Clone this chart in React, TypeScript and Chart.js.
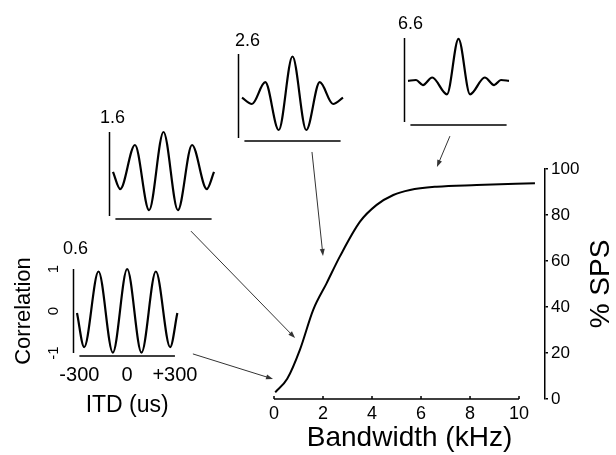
import React, { useEffect, useRef } from "react";
import { Chart, registerables } from "chart.js";

Chart.register(...registerables);

const FONT = "'Liberation Sans', Arial, Helvetica, sans-serif";

// ---------- main curve: % SPS vs bandwidth ----------
const BANDWIDTH_KHZ = [0.05, 0.54, 1.06, 1.6, 2.15, 2.69, 3.51, 4.19, 4.87, 5.55, 6.64, 8.27, 10.65];
const SPS_PERCENT = [2.9, 8.8, 21.5, 38.8, 50.4, 62, 77.1, 84.4, 88.7, 90.9, 92.3, 93.0, 93.8];
const X_TICKS = [0, 2, 4, 6, 8, 10];
const Y_TICKS = [0, 20, 40, 60, 80, 100];

// arrows (annotation, in main-chart data units)
const ARROW_FROM_BW = [-3.31, -3.39, 1.55, 7.18];
const ARROW_FROM_SPS = [19.6, 73.0, 107.4, 114.3];
const ARROW_TO_BW = [-0.04, 0.86, 2.0, 6.65];
const ARROW_TO_SPS = [8.7, 26.5, 62.2, 100.9];

// ---------- insets: cross-correlation vs ITD ----------
const ITD_TICKS = [-300, 0, 300];
const ITD_TICK_LABELS = ["-300", "0", "+300"];
const CORR_TICKS = [-1, 0, 1];

const ITD_06 = [-315, -270, -180, -90, 0, 90, 180, 270, 315];
const CORR_06 = [-0.05, -0.86, 0.94, -0.99, 1.0, -0.99, 0.94, -0.86, -0.05];

const ITD_16 = [-315, -270, -178, -90, 0, 90, 178, 270, 315];
const CORR_16 = [0.05, -0.36, 0.69, -0.86, 1.0, -0.86, 0.69, -0.36, 0.05];

const ITD_26 = [-315, -253, -170, -86, 0, 86, 170, 253, 315];
const CORR_26 = [-0.04, -0.19, 0.33, -0.81, 0.94, -0.81, 0.33, -0.19, -0.04];

const ITD_66 = [-315, -265, -222, -164, -72, 0, 72, 164, 222, 265, 315];
const CORR_66 = [-0.02, 0.0, -0.12, 0.06, -0.34, 0.98, -0.34, 0.06, -0.12, 0.0, -0.02];

function MainChart() {
  const ref = useRef<HTMLCanvasElement>(null);
  useEffect(() => {
    const decor = {
      id: "mainDecor",
      afterDraw(chart: any) {
        const { ctx, chartArea } = chart;
        const x = chart.scales.x;
        const y = chart.scales.y;
        ctx.save();
        // x axis line with small inward ticks
        ctx.strokeStyle = "#000";
        ctx.lineWidth = 1.5;
        const yb = chartArea.bottom;
        ctx.beginPath();
        ctx.moveTo(x.getPixelForValue(X_TICKS[0]), yb);
        ctx.lineTo(x.getPixelForValue(X_TICKS[X_TICKS.length - 1]), yb);
        X_TICKS.forEach((v) => {
          const px = x.getPixelForValue(v);
          ctx.moveTo(px, yb);
          ctx.lineTo(px, yb - 3);
        });
        ctx.stroke();
        // arrows
        ctx.strokeStyle = "#333";
        ctx.fillStyle = "#333";
        ctx.lineWidth = 1;
        for (let i = 0; i < ARROW_FROM_BW.length; i++) {
          const x0 = x.getPixelForValue(ARROW_FROM_BW[i]);
          const y0 = y.getPixelForValue(ARROW_FROM_SPS[i]);
          const x1 = x.getPixelForValue(ARROW_TO_BW[i]);
          const y1 = y.getPixelForValue(ARROW_TO_SPS[i]);
          const a = Math.atan2(y1 - y0, x1 - x0);
          const L = 7, W = 2.5;
          ctx.beginPath();
          ctx.moveTo(x0, y0);
          ctx.lineTo(x1 - Math.cos(a) * L * 0.8, y1 - Math.sin(a) * L * 0.8);
          ctx.stroke();
          ctx.beginPath();
          ctx.moveTo(x1, y1);
          ctx.lineTo(x1 - Math.cos(a) * L - Math.sin(a) * W, y1 - Math.sin(a) * L + Math.cos(a) * W);
          ctx.lineTo(x1 - Math.cos(a) * L + Math.sin(a) * W, y1 - Math.sin(a) * L - Math.cos(a) * W);
          ctx.closePath();
          ctx.fill();
        }
        // right-axis title, reading bottom to top
        ctx.fillStyle = "#000";
        ctx.translate(chart.width - 15, (chartArea.top + chartArea.bottom) / 2);
        ctx.rotate(-Math.PI / 2);
        ctx.font = `28px ${FONT}`;
        ctx.textAlign = "center";
        ctx.textBaseline = "middle";
        ctx.fillText("% SPS", 0, 0);
        ctx.restore();
      },
    };
    const chart = new Chart(ref.current!, {
      type: "line",
      data: {
        datasets: [
          {
            data: BANDWIDTH_KHZ.map((b, i) => ({ x: b, y: SPS_PERCENT[i] })),
            borderColor: "#000",
            borderWidth: 2,
            pointRadius: 0,
            cubicInterpolationMode: "monotone",
            fill: false,
            clip: false,
          } as any,
        ],
      },
      options: {
        animation: false,
        responsive: false,
        layout: { padding: { left: 274, top: 169, right: 0, bottom: 0 } },
        plugins: { legend: { display: false }, tooltip: { enabled: false } },
        scales: {
          x: {
            type: "linear",
            min: 0,
            max: 11.06,
            position: "bottom",
            grid: { display: false },
            border: { display: false },
            afterBuildTicks: (s: any) => {
              s.ticks = X_TICKS.map((v) => ({ value: v }));
            },
            ticks: { color: "#000", font: { family: FONT, size: 18 }, padding: -4, maxRotation: 0, autoSkip: false },
            title: {
              display: true,
              text: "Bandwidth (kHz)",
              color: "#000",
              font: { family: FONT, size: 28 },
              padding: { top: 0, bottom: 0 },
            },
            afterFit: (s: any) => {
              s.height = 56;
            },
          },
          y: {
            type: "linear",
            position: "right",
            min: 0,
            max: 100,
            afterBuildTicks: (s: any) => {
              s.ticks = Y_TICKS.map((v) => ({ value: v }));
            },
            grid: { display: true, drawOnChartArea: false, drawTicks: true, tickLength: 3, color: "#000", lineWidth: 1.5 },
            border: { display: true, color: "#000", width: 1.5 },
            ticks: { color: "#000", font: { family: FONT, size: 17 }, padding: 3 },
            afterFit: (s: any) => {
              s.width = 71;
            },
          },
        },
      } as any,
      plugins: [decor],
    });
    return () => chart.destroy();
  }, []);
  return (
    <canvas
      ref={ref}
      width={616}
      height={455}
      style={{ position: "absolute", left: 0, top: 0, width: 616, height: 455 }}
    />
  );
}

type InsetProps = {
  itd: number[];
  corr: number[];
  label: string;
  left: number;
  top: number;
  labelDx: number;
  labelDy: number;
  axes?: boolean;
};

const IW = 101;
const IH = 84;

function Inset({ itd, corr, label, left, top, labelDx, labelDy, axes }: InsetProps) {
  const ref = useRef<HTMLCanvasElement>(null);
  // canvas geometry
  const cLeft = axes ? 0 : left - 25;
  const cTop = axes ? top - 39 : top - 35;
  const cW = axes ? 200 : IW + 50;
  const cH = axes ? 190 : IH + 50;
  useEffect(() => {
    const decor = {
      id: "insetDecor",
      afterDraw(chart: any) {
        const { ctx, chartArea } = chart;
        const x = chart.scales.x;
        const y = chart.scales.y;
        ctx.save();
        ctx.strokeStyle = "#000";
        ctx.lineWidth = 1.5;
        ctx.beginPath();
        const vx = chartArea.left - 3.5;
        ctx.moveTo(vx, y.getPixelForValue(CORR_TICKS[CORR_TICKS.length - 1]));
        ctx.lineTo(vx, y.getPixelForValue(CORR_TICKS[0]));
        const hy = chartArea.bottom + 3;
        ctx.moveTo(x.getPixelForValue(ITD_TICKS[0]), hy);
        ctx.lineTo(x.getPixelForValue(ITD_TICKS[ITD_TICKS.length - 1]), hy);
        ctx.stroke();
        ctx.fillStyle = "#000";
        ctx.font = `18px ${FONT}`;
        ctx.textAlign = "left";
        ctx.textBaseline = "middle";
        ctx.fillText(label, chartArea.left + labelDx, chartArea.top + labelDy);
        ctx.restore();
      },
    };
    const scales: any = axes
      ? {
          x: {
            type: "linear",
            min: -315,
            max: 315,
            position: "bottom",
            grid: { display: false },
            border: { display: false },
            afterBuildTicks: (s: any) => {
              s.ticks = ITD_TICKS.map((v) => ({ value: v }));
            },
            ticks: {
              color: "#000",
              font: { family: FONT, size: 20 },
              padding: 2,
              maxRotation: 0,
              autoSkip: false,
              callback: (_v: any, i: number) => ITD_TICK_LABELS[i],
            },
            title: {
              display: true,
              text: "ITD (us)",
              color: "#000",
              font: { family: FONT, size: 23 },
              padding: { top: 0, bottom: 1 },
            },
            afterFit: (s: any) => {
              s.height = 67;
            },
          },
          y: {
            type: "linear",
            min: -1,
            max: 1,
            position: "left",
            grid: { display: false },
            border: { display: false },
            afterBuildTicks: (s: any) => {
              s.ticks = CORR_TICKS.map((v) => ({ value: v }));
            },
            ticks: {
              color: "#000",
              font: { family: FONT, size: 15 },
              padding: 8,
              minRotation: 90,
              maxRotation: 90,
              crossAlign: "center",
            },
            title: {
              display: true,
              text: "Correlation",
              color: "#000",
              font: { family: FONT, size: 22 },
              padding: { top: 11, bottom: 0 },
            },
            afterFit: (s: any) => {
              s.width = 77;
            },
          },
        }
      : {
          x: { type: "linear", min: -315, max: 315, display: false },
          y: { type: "linear", min: -1, max: 1, display: false },
        };
    const chart = new Chart(ref.current!, {
      type: "line",
      data: {
        datasets: [
          {
            data: itd.map((t, i) => ({ x: t, y: corr[i] })),
            borderColor: "#000",
            borderWidth: 2.2,
            pointRadius: 0,
            cubicInterpolationMode: "monotone",
            fill: false,
            clip: false,
          } as any,
        ],
      },
      options: {
        animation: false,
        responsive: false,
        layout: {
          padding: axes
            ? { left: 0, top: 39, right: cW - (left + IW), bottom: 0 }
            : { left: 25, top: 35, right: 25, bottom: 15 },
        },
        plugins: { legend: { display: false }, tooltip: { enabled: false } },
        scales,
      } as any,
      plugins: [decor],
    });
    return () => chart.destroy();
  }, []);
  return (
    <canvas
      ref={ref}
      width={cW}
      height={cH}
      style={{ position: "absolute", left: cLeft, top: cTop, width: cW, height: cH }}
    />
  );
}

export default function App() {
  return (
    <div style={{ position: "fixed", left: 0, top: 0, width: 616, height: 455, background: "#fff", overflow: "hidden" }}>
      <MainChart />
      <Inset itd={ITD_06} corr={CORR_06} label="0.6" left={77} top={269} labelDx={-14} labelDy={-20} axes />
      <Inset itd={ITD_16} corr={CORR_16} label="1.6" left={113} top={132} labelDx={-13} labelDy={-14} />
      <Inset itd={ITD_26} corr={CORR_26} label="2.6" left={242} top={54} labelDx={-7} labelDy={-13} />
      <Inset itd={ITD_66} corr={CORR_66} label="6.6" left={408} top={38} labelDx={-10} labelDy={-14} />
    </div>
  );
}
